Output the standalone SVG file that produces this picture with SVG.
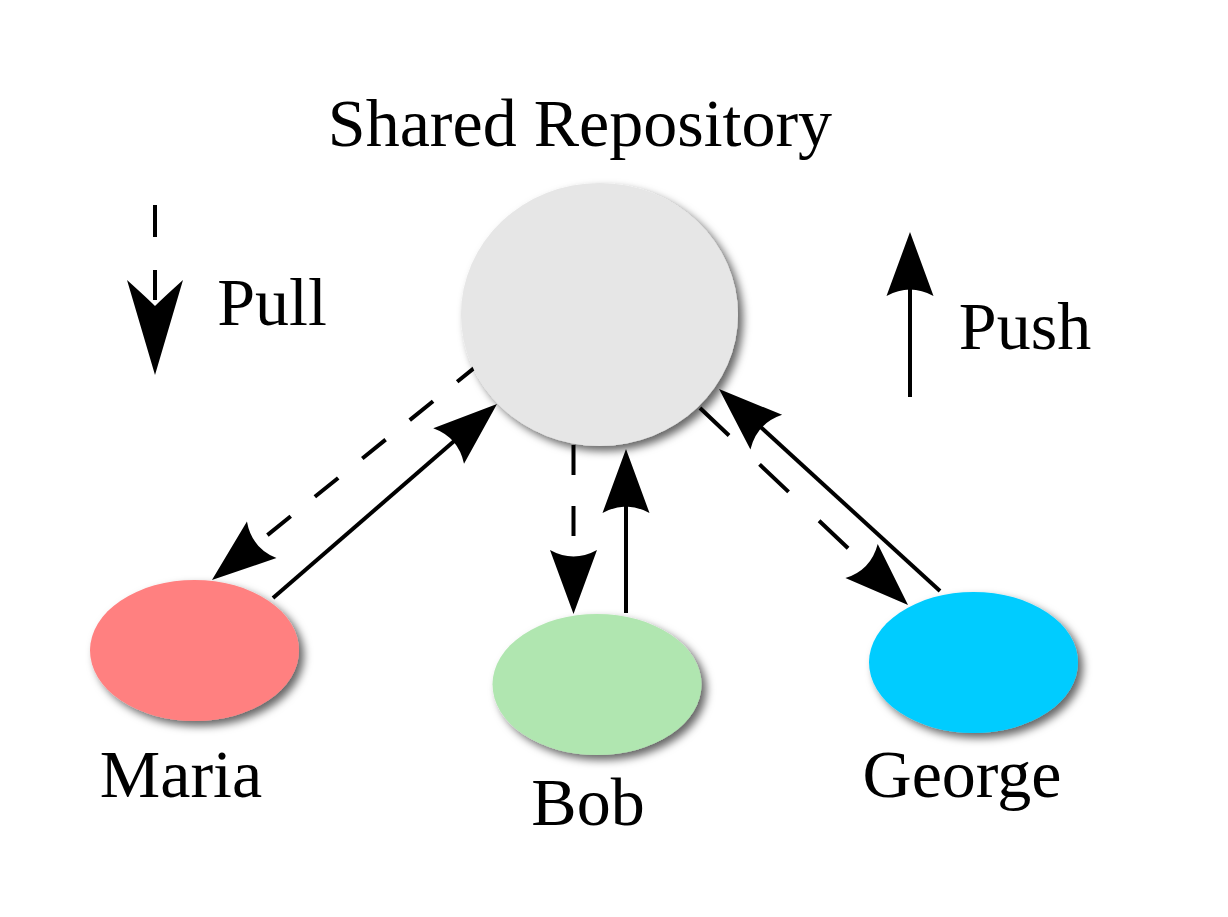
<svg xmlns="http://www.w3.org/2000/svg" width="1228" height="917" viewBox="0 0 1228 917">
<style>
text{font-family:"Liberation Serif","Times New Roman",serif;font-size:68px;fill:#000;text-anchor:middle}
.ln{fill:none;stroke:#000;stroke-width:4}
.d1{stroke-dasharray:30 31}
.d2{stroke-dasharray:40 42}
.ah{fill:#000}
</style>
<defs>
<filter id="sh" x="-20%" y="-20%" width="150%" height="150%">
<feDropShadow dx="5" dy="5" stdDeviation="4" flood-color="#000" flood-opacity="0.6"/>
</filter>
<marker id="arr" markerUnits="userSpaceOnUse" viewBox="-70 -30 80 60" markerWidth="80" markerHeight="60" refX="-20" refY="0" orient="auto">
<path d="M0,0 L-64,-23.5 Q-51,0 -64,23.5 Z" fill="#000"/>
</marker>
</defs>
<rect width="1228" height="917" fill="#fff"/>
<g id="legend">
<line class="ln" x1="155" y1="205" x2="155" y2="300" style="stroke-dasharray:32 33"/>
<path class="ah" d="M155,375 L127,280 Q147,298 155,306 Q163,298 183,280 Z"/>
<text x="272" y="325">Pull</text>
<line class="ln" x1="910" y1="397" x2="910" y2="252" marker-end="url(#arr)"/>
<text x="1025" y="349">Push</text>
</g>
<g id="connectors">
<line class="ln d1" x1="480.5" y1="362.9" x2="227.5" y2="567.4" marker-end="url(#arr)"/>
<line class="ln" x1="273" y1="598" x2="481.9" y2="417.1" marker-end="url(#arr)"/>
<line class="ln d1" x1="573.5" y1="445" x2="573.5" y2="594" marker-end="url(#arr)"/>
<line class="ln" x1="626" y1="613" x2="626" y2="469" marker-end="url(#arr)"/>
<line class="ln d2" x1="700" y1="408" x2="893.5" y2="591.3" marker-end="url(#arr)"/>
<line class="ln" x1="940" y1="591" x2="733.8" y2="402.5" marker-end="url(#arr)"/>
</g>
<g id="repo">
<ellipse cx="599.5" cy="314.5" rx="138.5" ry="131.5" fill="#e6e6e6" filter="url(#sh)"/>
<text x="580" y="146">Shared Repository</text>
</g>
<g id="maria">
<ellipse cx="194.5" cy="650.5" rx="104.5" ry="70.5" fill="#ff8080" filter="url(#sh)"/>
<text x="181" y="797">Maria</text>
</g>
<g id="bob">
<ellipse cx="597" cy="684.5" rx="104.5" ry="70.5" fill="#b0e6b0" filter="url(#sh)"/>
<text x="588" y="825">Bob</text>
</g>
<g id="george">
<ellipse cx="973.5" cy="662.5" rx="104.5" ry="70.5" fill="#00ccff" filter="url(#sh)"/>
<text x="962" y="797">George</text>
</g>
</svg>
